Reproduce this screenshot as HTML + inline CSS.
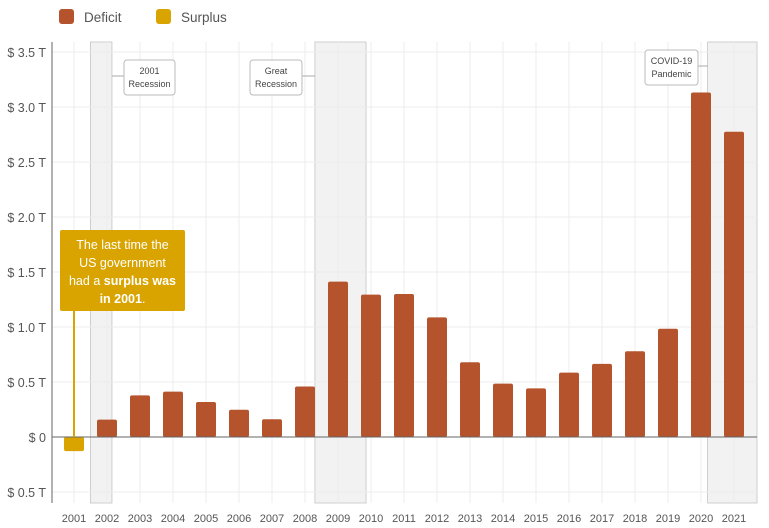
<!DOCTYPE html>
<html><head><meta charset="utf-8">
<style>
body{margin:0;background:#fff;font-family:"Liberation Sans",sans-serif;}
svg{display:block}
</style></head>
<body>
<svg id="chart" width="769" height="528">
  <g>
    <rect x="59" y="9" width="15" height="15" rx="3" fill="#B4532C"/>
    <text x="84" y="22" font-size="13.5" fill="#555">Deficit</text>
    <rect x="156" y="9" width="15" height="15" rx="3" fill="#DAA400"/>
    <text x="181" y="22" font-size="13.5" fill="#555">Surplus</text>
  </g>
  <g id="shades"></g>
  <g id="grid"></g>
  <g id="bars"></g>
  <g id="axes"></g>
  <g id="notes"></g>
</svg>
<script>
const years=["2001","2002","2003","2004","2005","2006","2007","2008","2009","2010","2011","2012","2013","2014","2015","2016","2017","2018","2019","2020","2021"];
const deficits=[-0.128,0.158,0.378,0.413,0.318,0.248,0.161,0.459,1.413,1.294,1.300,1.087,0.680,0.485,0.442,0.585,0.665,0.779,0.984,3.132,2.775];
const yTicks=[-0.5,0,0.5,1.0,1.5,2.0,2.5,3.0,3.5];
const yTickLabels=["$ 0.5 T","$ 0","$ 0.5 T","$ 1.0 T","$ 1.5 T","$ 2.0 T","$ 2.5 T","$ 3.0 T","$ 3.5 T"];

const NS="http://www.w3.org/2000/svg";
const X0=74, DX=33, Y0=437, PERT=110, PT=42, PB=503, PL=52, PR=757;
const x=i=>X0+i*DX;
const y=v=>Y0-v*PERT;
function mk(tag,attrs,parent,txt){const e=document.createElementNS(NS,tag);for(const k in attrs)e.setAttribute(k,attrs[k]);if(txt!=null)e.textContent=txt;parent.appendChild(e);return e;}
const G=id=>document.getElementById(id);

// recession shading (year index spans)
const shadeDefs=[[0.5,1.15],[7.3,8.85],[19.2,20.7]];
shadeDefs.forEach((s,k)=>{
  const x1=x(s[0]), x2=Math.min(x(s[1]),PR);
  const r=mk('rect',{x:x1,y:PT,width:x2-x1,height:PB-PT,fill:'#f2f2f2',stroke:'#c4c4c4','stroke-width':0.8},G('shades'));
  
  
});

// gridlines
yTicks.forEach((t,i)=>{
  const l=mk('line',{x1:PL,x2:PR,y1:y(t),y2:y(t),stroke:'#ececec'},G('grid'));
  
  
  const tx=mk('text',{x:46,y:y(t)+5,'text-anchor':'end','font-size':12.5,fill:'#555'},G('axes'),yTickLabels[i]);
  
  
});
years.forEach((yr,i)=>{
  const l=mk('line',{x1:x(i),x2:x(i),y1:PT,y2:PB,stroke:'#ececec'},G('grid'));
  
  
  const tx=mk('text',{x:x(i),y:522,'text-anchor':'middle','font-size':11,fill:'#555'},G('axes'),yr);
  
  
});

// bars
deficits.forEach((v,i)=>{
  const top=Math.min(y(v),Y0), h=Math.abs(y(v)-Y0);
  const b=mk('rect',{x:x(i)-10,y:top,width:20,height:h,rx:2,fill:v<0?'#DAA400':'#B4532C'},G('bars'));
  
  
});

// axes
const ax=mk('line',{x1:PL,x2:PL,y1:PT,y2:PB,stroke:'#666'},G('axes'));


const zl=mk('line',{x1:PL,x2:PR,y1:Y0,y2:Y0,stroke:'#666'},G('axes'));



// annotation boxes
function note(name,bx,by,w,lines,lx){
  const g=mk('g',{},G('notes'));
  
  
  mk('line',{x1:lx,x2:lx<bx?bx:bx+w,y1:by+16,y2:by+16,stroke:'#aaa'},g);
  mk('rect',{x:bx,y:by,width:w,height:35,rx:3,fill:'#fff',stroke:'#bbb'},g);
  lines.forEach((t,j)=>mk('text',{x:bx+w/2,y:by+14+j*13,'text-anchor':'middle','font-size':9,fill:'#444'},g,t));
}
note('annotation-2001-recession',124,60,51,['2001','Recession'],112);
note('annotation-great-recession',250,60,52,['Great','Recession'],315);
note('annotation-covid',645,50,53,['COVID-19','Pandemic'],708);

// surplus callout
const cg=mk('g',{},G('notes'));


mk('line',{x1:x(0),x2:x(0),y1:300,y2:Y0,stroke:'#DAA400','stroke-width':2},cg);
mk('rect',{x:60,y:230,width:125,height:81,rx:2,fill:'#D9A400'},cg);
const ct=[["The last time the"],["US government"],["had a ","surplus was"],["in 2001","."]];
ct.forEach((ln,j)=>{
  const t=mk('text',{x:122.5,y:249+j*18,'text-anchor':'middle','font-size':12.5,fill:'#fff'},cg);
  ln.forEach((s,k)=>{mk('tspan',{'font-weight':(j>=2&&k===(j===2?1:0))?'bold':'normal'},t,s);});
});
</script>
</body></html>
